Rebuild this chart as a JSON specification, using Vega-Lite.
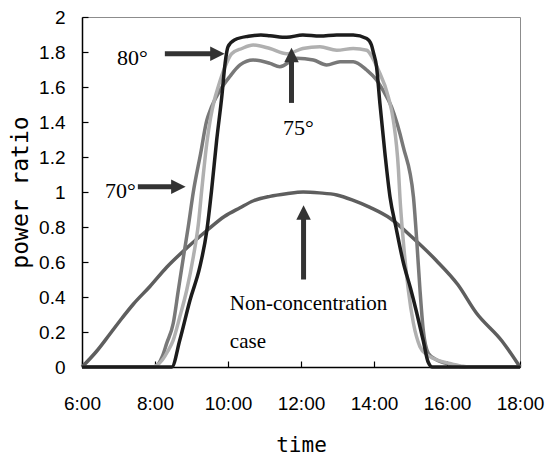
{
  "$schema": "https://vega.github.io/schema/vega-lite/v6.json",
  "width": 438,
  "height": 350,
  "autosize": {"type": "none"},
  "padding": {"left": 82, "top": 17, "right": 26, "bottom": 92},
  "background": "white",
  "config": {
    "view": {"stroke": "#8c8c8c", "strokeWidth": 1},
    "axis": {
      "grid": false,
      "domainColor": "#000000",
      "domainWidth": 1.5,
      "tickColor": "#000000",
      "tickWidth": 1.2,
      "tickSize": -6,
      "labelFont": "Liberation Sans",
      "labelFontSize": 19,
      "labelColor": "#000000",
      "labelFlush": false,
      "labelOverlap": false,
      "titleFont": "DejaVu Sans Mono",
      "titleFontSize": 23,
      "titleFontWeight": "normal",
      "titleColor": "#000000"
    }
  },
  "encoding": {
    "x": {
      "field": "t",
      "type": "quantitative",
      "scale": {"domain": [6, 18], "nice": false, "zero": false},
      "axis": {
        "title": "time",
        "values": [6, 8, 10, 12, 14, 16, 18],
        "labelExpr": "datum.value + ':00'",
        "labelPadding": 33,
        "titleX": 219,
        "titleY": 84,
        "titleFontSize": 21,
        "titleBaseline": "alphabetic"
      }
    },
    "y": {
      "field": "v",
      "type": "quantitative",
      "scale": {"domain": [0, 2], "nice": false},
      "axis": {
        "title": "power ratio",
        "values": [0, 0.2, 0.4, 0.6, 0.8, 1, 1.2, 1.4, 1.6, 1.8, 2],
        "format": "~g",
        "labelPadding": 23,
        "titleX": -62,
        "titleY": 175,
        "titleAngle": -90,
        "titleAlign": "center",
        "titleBaseline": "middle"
      }
    }
  },
  "layer": [
    {
      "data": {
        "values": [
          {"s": "nc", "t": 6, "v": 0}, {"s": "nc", "t": 6.4, "v": 0.09}, {"s": "nc", "t": 6.77, "v": 0.19}, {"s": "nc", "t": 7.1, "v": 0.28}, {"s": "nc", "t": 7.41, "v": 0.36}, {"s": "nc", "t": 7.86, "v": 0.46}, {"s": "nc", "t": 8.32, "v": 0.57}, {"s": "nc", "t": 8.87, "v": 0.68}, {"s": "nc", "t": 9.42, "v": 0.78}, {"s": "nc", "t": 9.9, "v": 0.86}, {"s": "nc", "t": 10.33, "v": 0.91}, {"s": "nc", "t": 10.7, "v": 0.95}, {"s": "nc", "t": 11.15, "v": 0.975}, {"s": "nc", "t": 11.6, "v": 0.99}, {"s": "nc", "t": 12.06, "v": 1.0}, {"s": "nc", "t": 12.5, "v": 0.995}, {"s": "nc", "t": 12.98, "v": 0.983}, {"s": "nc", "t": 13.4, "v": 0.955}, {"s": "nc", "t": 13.89, "v": 0.912}, {"s": "nc", "t": 14.44, "v": 0.85}, {"s": "nc", "t": 15.0, "v": 0.75}, {"s": "nc", "t": 15.7, "v": 0.61}, {"s": "nc", "t": 16.3, "v": 0.47}, {"s": "nc", "t": 16.8, "v": 0.31}, {"s": "nc", "t": 17.5, "v": 0.15}, {"s": "nc", "t": 18, "v": 0},

          {"s": "70", "t": 6, "v": 0}, {"s": "70", "t": 7.95, "v": 0}, {"s": "70", "t": 8.1, "v": 0.02}, {"s": "70", "t": 8.2, "v": 0.06}, {"s": "70", "t": 8.32, "v": 0.135}, {"s": "70", "t": 8.5, "v": 0.25}, {"s": "70", "t": 8.64, "v": 0.44}, {"s": "70", "t": 8.78, "v": 0.63}, {"s": "70", "t": 8.91, "v": 0.8}, {"s": "70", "t": 9.05, "v": 1.0}, {"s": "70", "t": 9.25, "v": 1.22}, {"s": "70", "t": 9.42, "v": 1.41}, {"s": "70", "t": 9.5, "v": 1.46}, {"s": "70", "t": 9.78, "v": 1.58}, {"s": "70", "t": 10.05, "v": 1.66}, {"s": "70", "t": 10.33, "v": 1.726}, {"s": "70", "t": 10.69, "v": 1.754}, {"s": "70", "t": 11.15, "v": 1.735}, {"s": "70", "t": 11.42, "v": 1.716}, {"s": "70", "t": 11.88, "v": 1.764}, {"s": "70", "t": 12.34, "v": 1.754}, {"s": "70", "t": 12.7, "v": 1.726}, {"s": "70", "t": 13.07, "v": 1.745}, {"s": "70", "t": 13.43, "v": 1.745}, {"s": "70", "t": 13.8, "v": 1.697}, {"s": "70", "t": 14.07, "v": 1.64}, {"s": "70", "t": 14.25, "v": 1.58}, {"s": "70", "t": 14.48, "v": 1.486}, {"s": "70", "t": 14.8, "v": 1.259}, {"s": "70", "t": 15.08, "v": 0.973}, {"s": "70", "t": 15.17, "v": 0.726}, {"s": "70", "t": 15.26, "v": 0.44}, {"s": "70", "t": 15.35, "v": 0.21}, {"s": "70", "t": 15.49, "v": 0.078}, {"s": "70", "t": 15.72, "v": 0.04}, {"s": "70", "t": 16.1, "v": 0.015}, {"s": "70", "t": 16.5, "v": 0}, {"s": "70", "t": 18, "v": 0},

          {"s": "75", "t": 6, "v": 0}, {"s": "75", "t": 7.95, "v": 0}, {"s": "75", "t": 8.05, "v": 0.01}, {"s": "75", "t": 8.2, "v": 0.04}, {"s": "75", "t": 8.35, "v": 0.09}, {"s": "75", "t": 8.5, "v": 0.154}, {"s": "75", "t": 8.68, "v": 0.287}, {"s": "75", "t": 8.87, "v": 0.44}, {"s": "75", "t": 9.05, "v": 0.63}, {"s": "75", "t": 9.19, "v": 0.82}, {"s": "75", "t": 9.28, "v": 1.01}, {"s": "75", "t": 9.42, "v": 1.28}, {"s": "75", "t": 9.52, "v": 1.42}, {"s": "75", "t": 9.62, "v": 1.52}, {"s": "75", "t": 9.73, "v": 1.6}, {"s": "75", "t": 9.92, "v": 1.716}, {"s": "75", "t": 10.1, "v": 1.79}, {"s": "75", "t": 10.38, "v": 1.82}, {"s": "75", "t": 10.69, "v": 1.84}, {"s": "75", "t": 11.15, "v": 1.82}, {"s": "75", "t": 11.61, "v": 1.79}, {"s": "75", "t": 12.05, "v": 1.82}, {"s": "75", "t": 12.52, "v": 1.83}, {"s": "75", "t": 12.98, "v": 1.81}, {"s": "75", "t": 13.43, "v": 1.82}, {"s": "75", "t": 13.8, "v": 1.81}, {"s": "75", "t": 13.95, "v": 1.77}, {"s": "75", "t": 14.12, "v": 1.697}, {"s": "75", "t": 14.39, "v": 1.545}, {"s": "75", "t": 14.53, "v": 1.41}, {"s": "75", "t": 14.67, "v": 1.126}, {"s": "75", "t": 14.71, "v": 0.973}, {"s": "75", "t": 14.8, "v": 0.726}, {"s": "75", "t": 14.94, "v": 0.44}, {"s": "75", "t": 15.08, "v": 0.25}, {"s": "75", "t": 15.26, "v": 0.116}, {"s": "75", "t": 15.45, "v": 0.07}, {"s": "75", "t": 15.62, "v": 0.05}, {"s": "75", "t": 16.08, "v": 0.02}, {"s": "75", "t": 16.4, "v": 0.005}, {"s": "75", "t": 16.6, "v": 0}, {"s": "75", "t": 18, "v": 0},

          {"s": "80", "t": 6, "v": 0}, {"s": "80", "t": 8.3, "v": 0}, {"s": "80", "t": 8.46, "v": 0}, {"s": "80", "t": 8.68, "v": 0.154}, {"s": "80", "t": 8.96, "v": 0.383}, {"s": "80", "t": 9.23, "v": 0.573}, {"s": "80", "t": 9.42, "v": 0.78}, {"s": "80", "t": 9.55, "v": 1.01}, {"s": "80", "t": 9.69, "v": 1.297}, {"s": "80", "t": 9.83, "v": 1.545}, {"s": "80", "t": 9.92, "v": 1.735}, {"s": "80", "t": 10.0, "v": 1.83}, {"s": "80", "t": 10.19, "v": 1.87}, {"s": "80", "t": 10.56, "v": 1.89}, {"s": "80", "t": 10.9, "v": 1.897}, {"s": "80", "t": 11.15, "v": 1.893}, {"s": "80", "t": 11.61, "v": 1.884}, {"s": "80", "t": 12.05, "v": 1.897}, {"s": "80", "t": 12.52, "v": 1.891}, {"s": "80", "t": 12.98, "v": 1.897}, {"s": "80", "t": 13.43, "v": 1.897}, {"s": "80", "t": 13.8, "v": 1.877}, {"s": "80", "t": 13.93, "v": 1.84}, {"s": "80", "t": 13.98, "v": 1.8}, {"s": "80", "t": 14.07, "v": 1.716}, {"s": "80", "t": 14.16, "v": 1.51}, {"s": "80", "t": 14.3, "v": 1.22}, {"s": "80", "t": 14.44, "v": 0.97}, {"s": "80", "t": 14.6, "v": 0.8}, {"s": "80", "t": 14.8, "v": 0.6}, {"s": "80", "t": 15.0, "v": 0.45}, {"s": "80", "t": 15.17, "v": 0.31}, {"s": "80", "t": 15.35, "v": 0.15}, {"s": "80", "t": 15.48, "v": 0.03}, {"s": "80", "t": 15.6, "v": 0}, {"s": "80", "t": 18, "v": 0}
        ]
      },
      "mark": {"type": "line", "interpolate": "monotone", "strokeWidth": 3.5},
      "encoding": {
        "detail": {"field": "s", "type": "nominal"},
        "color": {
          "field": "s",
          "type": "nominal",
          "scale": {"domain": ["nc", "70", "75", "80"], "range": ["#5e5e5e", "#787878", "#b0b0b0", "#1c1c1c"]},
          "legend": null
        },
        "order": {"field": "t", "type": "quantitative"}
      }
    },
    {
      "data": {
        "values": [
          {"t": 8.27, "v": 1.79, "t2": 9.6, "v2": 1.79},
          {"t": 7.53, "v": 1.03, "t2": 8.5, "v2": 1.03},
          {"t": 11.74, "v": 1.509, "t2": 11.74, "v2": 1.75},
          {"t": 12.07, "v": 0.5, "t2": 12.07, "v2": 0.85}
        ]
      },
      "mark": {"type": "rule", "strokeWidth": 5, "color": "#333333"},
      "encoding": {
        "x2": {"field": "t2"},
        "y2": {"field": "v2"}
      }
    },
    {
      "data": {
        "values": [
          {"t": 9.71, "v": 1.79, "dir": "right"},
          {"t": 8.64, "v": 1.03, "dir": "right"},
          {"t": 11.74, "v": 1.783, "dir": "up"},
          {"t": 12.07, "v": 0.883, "dir": "up"}
        ]
      },
      "mark": {"type": "point", "filled": true, "size": 210, "opacity": 1, "color": "#333333", "strokeWidth": 0},
      "encoding": {
        "shape": {
          "field": "dir",
          "type": "nominal",
          "scale": {"domain": ["right", "up"], "range": ["M-1,-1L1,0L-1,1Z", "M-1,1L0,-1L1,1Z"]},
          "legend": null
        }
      }
    },
    {
      "data": {
        "values": [
          {"t": 6.96, "v": 1.726, "label": "80°"},
          {"t": 6.63, "v": 0.966, "label": "70°"},
          {"t": 11.51, "v": 1.326, "label": "75°"}
        ]
      },
      "mark": {"type": "text", "align": "left", "baseline": "alphabetic", "font": "Liberation Serif", "fontSize": 22, "color": "#000000"},
      "encoding": {"text": {"field": "label"}}
    },
    {
      "data": {
        "values": [
          {"t": 10.05, "v": 0.326, "label": "Non-concentration"},
          {"t": 10.05, "v": 0.109, "label": "case"}
        ]
      },
      "mark": {"type": "text", "align": "left", "baseline": "alphabetic", "font": "Liberation Serif", "fontSize": 21, "color": "#000000"},
      "encoding": {"text": {"field": "label"}}
    }
  ]
}
